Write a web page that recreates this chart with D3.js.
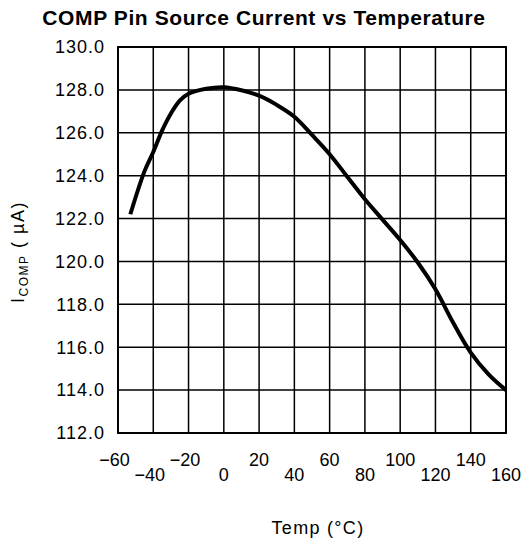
<!DOCTYPE html>
<html lang="en">
  <head>
    <meta charset="utf-8">
    <title>COMP Pin Source Current vs Temperature</title>
    <script src="https://d3js.org/d3.v7.min.js"></script>
    <style>
      body { margin: 0; background: #fff; }
      text { font-family: "Liberation Sans", Arial, sans-serif; fill: #000; }
    </style>
  </head>
  <body>
    <div id="chart"></div>
    <script type="text/javascript">
      // values
      var temps = [-53, -45, -40, -35, -30, -25, -20, -10, 0, 10, 20, 30, 40, 50, 60, 70, 80, 90, 100, 110, 120, 130, 140, 150, 160];
      var icomp = [122.2, 124.2, 125.1, 126.1, 126.9, 127.5, 127.82, 128.05, 128.12, 127.98, 127.73, 127.3, 126.75, 125.9, 125.0, 123.95, 122.9, 121.95, 121.0, 119.95, 118.7, 117.15, 115.75, 114.75, 114.0];
      var xTicks = [-60, -40, -20, 0, 20, 40, 60, 80, 100, 120, 140, 160];
      var yTicks = [112, 114, 116, 118, 120, 122, 124, 126, 128, 130];

      var width = 523,
          height = 547,
          margin = { top: 47, right: 17, bottom: 114, left: 118 };

      var svg = d3.select("#chart").append("svg")
                  .attr("width", width)
                  .attr("height", height);

      var x = d3.scaleLinear()
                .domain([-60, 160])
                .range([margin.left, width - margin.right]);
      var y = d3.scaleLinear()
                .domain([112, 130])
                .range([height - margin.bottom, margin.top]);

      // title
      svg.append("text")
         .attr("x", 264)
         .attr("y", 24.5)
         .attr("text-anchor", "middle")
         .style("font-size", "21px")
         .style("font-weight", "bold")
         .style("letter-spacing", "0.6px")
         .text("COMP Pin Source Current vs Temperature");

      // grid
      svg.append("g").selectAll("line")
         .data(xTicks)
         .join("line")
         .attr("x1", d => x(d)).attr("x2", d => x(d))
         .attr("y1", y(112)).attr("y2", y(130))
         .attr("stroke", "#000")
         .attr("stroke-width", 1.5);

      svg.append("g").selectAll("line")
         .data(yTicks)
         .join("line")
         .attr("x1", x(-60)).attr("x2", x(160))
         .attr("y1", d => y(d)).attr("y2", d => y(d))
         .attr("stroke", "#000")
         .attr("stroke-width", 1.5);

      svg.append("rect")
         .attr("x", x(-60))
         .attr("y", y(130))
         .attr("width", x(160) - x(-60))
         .attr("height", y(112) - y(130))
         .attr("fill", "none")
         .attr("stroke", "#000")
         .attr("stroke-width", 2);

      // y tick labels
      svg.append("g").selectAll("text")
         .data(yTicks)
         .join("text")
         .attr("x", x(-60) - 13)
         .attr("y", d => y(d))
         .attr("dy", "0.35em")
         .attr("text-anchor", "end")
         .style("font-size", "18px")
         .style("letter-spacing", "1px")
         .text(d => d.toFixed(1));

      // x tick labels, two staggered rows, digits centred on the line
      svg.append("g").selectAll("text")
         .data(xTicks)
         .join("text")
         .attr("x", d => x(d) + (d < 0 ? -3.5 : 0))
         .attr("y", (d, i) => i % 2 == 0 ? 466 : 481)
         .attr("text-anchor", "middle")
         .style("font-size", "18px")
         .text(d => d < 0 ? "\u2212" + Math.abs(d) : d);

      // axis titles
      svg.append("text")
         .attr("x", 318)
         .attr("y", 534)
         .attr("text-anchor", "middle")
         .style("font-size", "18px")
         .style("letter-spacing", "1.3px")
         .text("Temp (\u00B0C)");

      var yt = svg.append("text")
         .attr("transform", "translate(24,252) rotate(-90)")
         .attr("text-anchor", "middle")
         .style("font-size", "18px")
         .style("letter-spacing", "1.5px");
      yt.append("tspan").text("I");
      yt.append("tspan").attr("dy", 4).style("font-size", "12px").text("COMP");
      yt.append("tspan").attr("dy", -4).text(" ( \u00B5A)");

      // curve
      var line = d3.line()
                   .x((d, i) => x(temps[i]))
                   .y(d => y(d))
                   .curve(d3.curveCatmullRom);

      svg.append("path")
         .datum(icomp)
         .attr("d", line)
         .attr("fill", "none")
         .attr("stroke", "#000")
         .attr("stroke-width", 4)
         .attr("stroke-linejoin", "round");
    </script>
  </body>
</html>
